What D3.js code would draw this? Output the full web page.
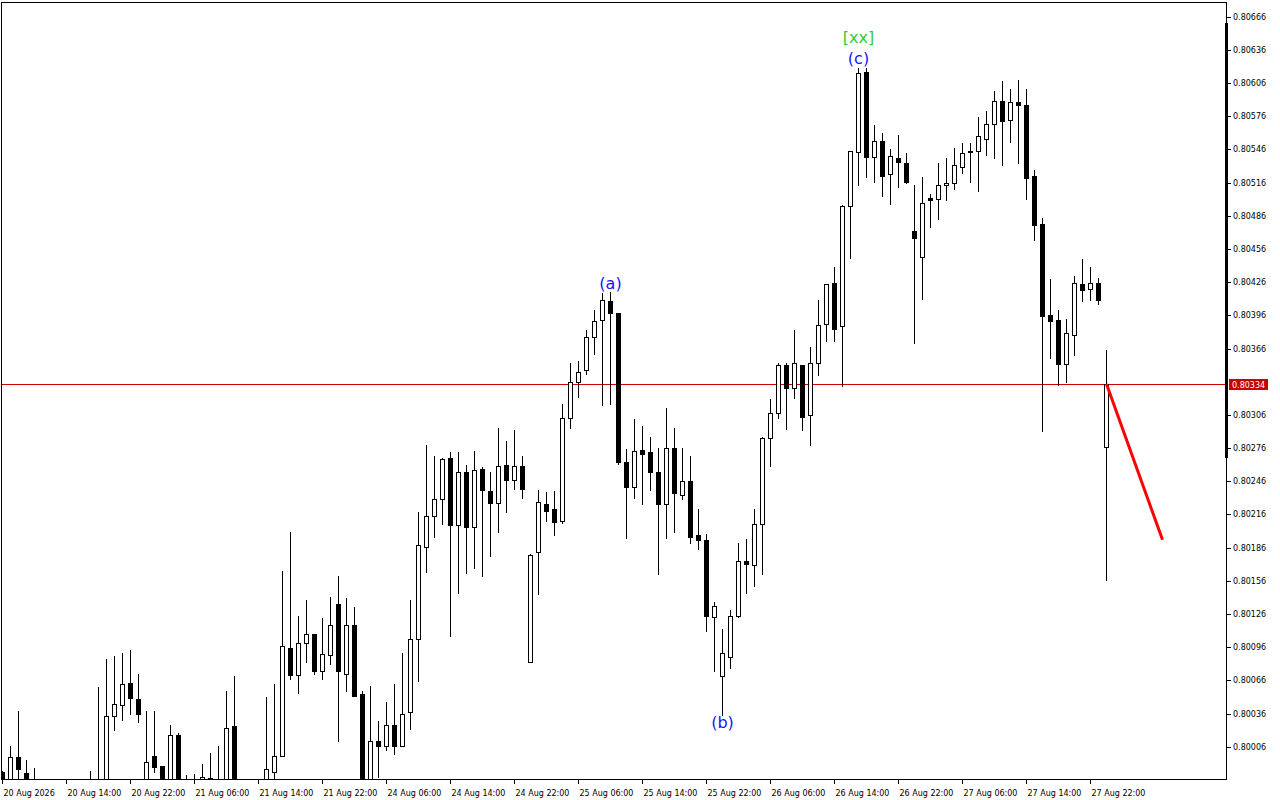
<!DOCTYPE html>
<html>
<head>
<meta charset="utf-8">
<script src="https://cdn.jsdelivr.net/npm/d3@7"></script>
<style>
  html, body { margin: 0; padding: 0; background: #ffffff; }
  svg { display: block; }
  .axis text { font-family: "DejaVu Sans", sans-serif; font-size: 8px; fill: #000; }
  .axis line { stroke: #000; }
</style>
</head>
<body>
<svg id="chart" width="1280" height="800"></svg>
<script>
// ---- data (hourly bars, 20 Aug 2026 06:00 .. 28 Aug 2026 00:00) ----
const opens = [0.79983,0.79967,0.79997,0.79982,0.79960,0.79970,0.79955,0.79948,0.79952,0.79945,
0.79950,0.79962,0.79975,0.79968,0.80034,0.80044,0.80064,0.80049,0.79970,0.79998,
0.79989,0.79968,0.80017,0.79965,0.79970,0.79976,0.79978,0.79972,0.79965,0.80025,
0.79950,0.79945,0.79955,0.79962,0.79983,0.79998,0.80095,0.80071,0.80100,0.80108,
0.80074,0.80089,0.80135,0.80072,0.80116,0.80054,0.79968,0.80011,0.80007,0.80026,
0.80007,0.80037,0.80103,0.80187,0.80215,0.80230,0.80267,0.80206,0.80254,0.80205,
0.80257,0.80237,0.80226,0.80261,0.80247,0.80260,0.80083,0.80182,0.80225,0.80221,
0.80210,0.80303,0.80336,0.80347,0.80376,0.80392,0.80409,0.80398,0.80263,0.80241,
0.80274,0.80272,0.80254,0.80225,0.80276,0.80234,0.80246,0.80197,0.80193,0.80123,
0.80070,0.80087,0.80124,0.80174,0.80170,0.80207,0.80285,0.80308,0.80351,0.80330,
0.80351,0.80306,0.80353,0.80388,0.80425,0.80386,0.80495,0.80544,0.80616,0.80539,
0.80554,0.80524,0.80538,0.80534,0.80472,0.80449,0.80502,0.80501,0.80514,0.80516,
0.80530,0.80545,0.80545,0.80555,0.80569,0.80590,0.80573,0.80589,0.80586,0.80522,
0.80479,0.80396,0.80392,0.80352,0.80378,0.80424,0.80420,0.80425,0.80277];
const highs = [0.79984,0.80007,0.80038,0.79994,0.79987,0.79975,0.79965,0.79960,0.79962,0.79958,
0.79968,0.79984,0.80060,0.80085,0.80088,0.80091,0.80093,0.80072,0.80038,0.80038,
0.79989,0.80026,0.80018,0.79980,0.79981,0.79990,0.80000,0.80007,0.80056,0.80070,
0.79965,0.79960,0.79970,0.80051,0.80063,0.80165,0.80200,0.80124,0.80139,0.80108,
0.80122,0.80141,0.80160,0.80140,0.80132,0.80056,0.80061,0.80029,0.80046,0.80063,
0.80091,0.80139,0.80218,0.80279,0.80269,0.80267,0.80272,0.80272,0.80261,0.80273,
0.80259,0.80254,0.80294,0.80282,0.80292,0.80269,0.80180,0.80238,0.80236,0.80237,
0.80316,0.80353,0.80355,0.80383,0.80401,0.80416,0.80417,0.80398,0.80275,0.80302,
0.80296,0.80286,0.80276,0.80312,0.80294,0.80276,0.80269,0.80221,0.80198,0.80137,
0.80112,0.80130,0.80190,0.80194,0.80221,0.80286,0.80320,0.80353,0.80353,0.80383,
0.80351,0.80367,0.80410,0.80424,0.80440,0.80496,0.80545,0.80620,0.80620,0.80568,
0.80561,0.80546,0.80559,0.80543,0.80514,0.80521,0.80506,0.80534,0.80538,0.80547,
0.80552,0.80552,0.80575,0.80581,0.80599,0.80608,0.80601,0.80609,0.80601,0.80527,
0.80484,0.80429,0.80401,0.80393,0.80432,0.80447,0.80440,0.80430,0.80365];
const lows = [0.79958,0.79962,0.79971,0.79958,0.79950,0.79950,0.79940,0.79935,0.79938,0.79930,
0.79940,0.79955,0.79960,0.79960,0.80021,0.80030,0.80036,0.80028,0.79960,0.79983,
0.79955,0.79960,0.79950,0.79955,0.79960,0.79965,0.79968,0.79960,0.79960,0.79940,
0.79935,0.79930,0.79940,0.79955,0.79977,0.79998,0.80067,0.80055,0.80083,0.80072,
0.80067,0.80081,0.80011,0.80056,0.80052,0.79955,0.79960,0.79979,0.80003,0.79999,
0.80007,0.80022,0.80065,0.80164,0.80196,0.80207,0.80106,0.80145,0.80163,0.80168,
0.80160,0.80178,0.80200,0.80218,0.80239,0.80231,0.80083,0.80144,0.80210,0.80197,
0.80208,0.80294,0.80322,0.80343,0.80361,0.80315,0.80316,0.80262,0.80195,0.80231,
0.80225,0.80238,0.80162,0.80195,0.80200,0.80230,0.80190,0.80185,0.80111,0.80074,
0.80035,0.80077,0.80123,0.80145,0.80151,0.80162,0.80260,0.80303,0.80293,0.80321,
0.80292,0.80279,0.80342,0.80373,0.80373,0.80332,0.80448,0.80514,0.80521,0.80517,
0.80504,0.80497,0.80512,0.80516,0.80371,0.80411,0.80476,0.80483,0.80500,0.80510,
0.80525,0.80517,0.80508,0.80541,0.80538,0.80532,0.80553,0.80534,0.80501,0.80464,
0.80291,0.80357,0.80333,0.80336,0.80360,0.80409,0.80410,0.80406,0.80157];
const closes = [0.79962,0.79997,0.79986,0.79967,0.79970,0.79955,0.79948,0.79952,0.79945,0.79950,
0.79962,0.79975,0.79968,0.80034,0.80045,0.80063,0.80050,0.80036,0.79992,0.79988,
0.79965,0.80017,0.79960,0.79970,0.79975,0.79979,0.79975,0.79970,0.80023,0.79950,
0.79945,0.79955,0.79960,0.79986,0.79998,0.80097,0.80071,0.80100,0.80108,0.80074,
0.80090,0.80116,0.80074,0.80116,0.80052,0.79965,0.80011,0.80007,0.80026,0.80007,
0.80036,0.80103,0.80188,0.80215,0.80230,0.80266,0.80206,0.80254,0.80205,0.80256,
0.80238,0.80226,0.80260,0.80247,0.80260,0.80239,0.80179,0.80227,0.80219,0.80209,
0.80303,0.80336,0.80345,0.80376,0.80391,0.80410,0.80398,0.80263,0.80241,0.80273,
0.80271,0.80254,0.80225,0.80276,0.80235,0.80246,0.80196,0.80193,0.80124,0.80133,
0.80091,0.80124,0.80174,0.80171,0.80207,0.80285,0.80308,0.80351,0.80330,0.80353,
0.80304,0.80353,0.80387,0.80424,0.80384,0.80495,0.80545,0.80615,0.80539,0.80554,
0.80522,0.80540,0.80535,0.80517,0.80466,0.80498,0.80500,0.80514,0.80516,0.80532,
0.80543,0.80544,0.80558,0.80569,0.80590,0.80572,0.80589,0.80586,0.80520,0.80478,
0.80395,0.80391,0.80352,0.80380,0.80425,0.80419,0.80425,0.80410,0.80334];

const timeLabels = ["20 Aug 2026","20 Aug 14:00","20 Aug 22:00","21 Aug 06:00","21 Aug 14:00","21 Aug 22:00",
"24 Aug 06:00","24 Aug 14:00","24 Aug 22:00","25 Aug 06:00","25 Aug 14:00","25 Aug 22:00",
"26 Aug 06:00","26 Aug 14:00","26 Aug 22:00","27 Aug 06:00","27 Aug 14:00","27 Aug 22:00"];
const timeTickBars = [0,8,16,24,32,40,48,56,64,72,80,88,96,104,112,120,128,136];
// 0.80336 sits under the current-price label, so it is not listed
const priceTicks = [0.80666,0.80636,0.80606,0.80576,0.80546,0.80516,0.80486,0.80456,0.80426,0.80396,
0.80366,0.80306,0.80276,0.80246,0.80216,0.80186,0.80156,0.80126,0.80096,0.80066,0.80036,0.80006];
const currentPrice = 0.80334;
const waveLabels = ["(a)","(b)","(c)","[xx]"];
const waveBars = [76, 90, 107, 107];
const forecastBars = [138, 145];
const forecastPrices = [0.80334, 0.80193];

// ---- layout ----
const svg = d3.select("#chart");
const plotL = 2, plotR = 1227, plotT = 2, plotB = 780;

const x = d3.scaleLinear().domain([0, 138]).range([2, 2 + 8 * 138]);
const y = d3.scaleLinear().domain([0.80006, 0.80666]).range([746.7, 16.7]);
const cx = i => x(i) + 0.5;
const yr = v => Math.round(y(v));

svg.append("rect").attr("width", 1280).attr("height", 800).attr("fill", "#fff");

svg.append("defs").append("clipPath").attr("id", "plotClip")
  .append("rect").attr("x", plotL).attr("y", plotT).attr("width", plotR - plotL).attr("height", plotB - plotT);

const plot = svg.append("g").attr("clip-path", "url(#plotClip)").attr("shape-rendering", "crispEdges");

// current price line
plot.append("line")
  .attr("x1", plotL).attr("x2", plotR)
  .attr("y1", yr(currentPrice) + 0.5).attr("y2", yr(currentPrice) + 0.5)
  .attr("stroke", "#d00000").attr("stroke-width", 1);

// candles
const idx = d3.range(opens.length);
const candles = plot.append("g").selectAll("g").data(idx).join("g");
candles.append("line")
  .attr("x1", i => cx(i)).attr("x2", i => cx(i))
  .attr("y1", i => yr(highs[i])).attr("y2", i => yr(lows[i]) + 1)
  .attr("stroke", "#000").attr("stroke-width", 1);
candles.each(function(i) {
  const g = d3.select(this);
  const top = yr(Math.max(opens[i], closes[i]));
  const bot = yr(Math.min(opens[i], closes[i]));
  if (closes[i] >= opens[i]) {
    g.append("rect")
      .attr("x", cx(i) - 2).attr("y", top + 0.5)
      .attr("width", 4).attr("height", Math.max(bot - top, 1))
      .attr("fill", "#fff").attr("stroke", "#000").attr("stroke-width", 1);
  } else {
    g.append("rect")
      .attr("x", cx(i) - 2.5).attr("y", top)
      .attr("width", 5).attr("height", Math.max(bot - top + 1, 2))
      .attr("fill", "#000");
  }
});

// forecast line
plot.append("line")
  .attr("x1", cx(forecastBars[0])).attr("y1", y(forecastPrices[0]))
  .attr("x2", cx(forecastBars[1])).attr("y2", y(forecastPrices[1]))
  .attr("stroke", "#ff0000").attr("stroke-width", 3)
  .attr("shape-rendering", "auto");

// wave labels
const labelColors = ["#1414ff", "#1414ff", "#1414ff", "#32cd32"];
const labelBaseline = [289, 728, 64, 43];
svg.append("g").selectAll("text").data(waveLabels).join("text")
  .attr("x", (d, i) => cx(waveBars[i]))
  .attr("y", (d, i) => labelBaseline[i])
  .attr("text-anchor", "middle")
  .attr("font-family", "DejaVu Sans, sans-serif")
  .attr("font-size", 16)
  .attr("fill", (d, i) => labelColors[i])
  .text(d => d);

// frame
const frame = svg.append("g").attr("shape-rendering", "crispEdges").attr("stroke", "#000").attr("stroke-width", 1);
frame.append("line").attr("x1", 1.5).attr("x2", 1.5).attr("y1", 2).attr("y2", 780);
frame.append("line").attr("x1", 1).attr("x2", 1227).attr("y1", 2.5).attr("y2", 2.5);
frame.append("line").attr("x1", 1).attr("x2", 1227).attr("y1", 779.5).attr("y2", 779.5);
frame.append("line").attr("x1", 1226.5).attr("x2", 1226.5).attr("y1", 2).attr("y2", 780);
svg.append("rect").attr("x", 1225).attr("y", 23).attr("width", 3).attr("height", 435).attr("fill", "#000");

// x axis
const xAxis = d3.axisBottom(x)
  .tickValues(timeTickBars)
  .tickFormat((d, i) => timeLabels[i])
  .tickSize(4).tickPadding(6);
const gx = svg.append("g").attr("class", "axis").attr("transform", "translate(0,780)")
  .attr("shape-rendering", "crispEdges").call(xAxis);
gx.select(".domain").remove();
gx.selectAll("text").attr("text-anchor", "start").attr("dx", 1);

// y axis
const yAxis = d3.axisRight(y)
  .tickValues(priceTicks)
  .tickFormat(d => d.toFixed(5))
  .tickSize(4).tickPadding(2);
const gy = svg.append("g").attr("class", "axis").attr("transform", "translate(1227,0)")
  .attr("shape-rendering", "crispEdges").call(yAxis);
gy.select(".domain").remove();

// current price label
const cpY = yr(currentPrice) + 0.5;
svg.append("rect").attr("x", 1229).attr("y", cpY - 5.5).attr("width", 39).attr("height", 11)
  .attr("fill", "#c80000").attr("shape-rendering", "crispEdges");
svg.append("text").attr("x", 1232).attr("y", cpY + 3)
  .attr("font-family", "DejaVu Sans, sans-serif").attr("font-size", 8).attr("fill", "#fff")
  .text(currentPrice.toFixed(5));
</script>
</body>
</html>
